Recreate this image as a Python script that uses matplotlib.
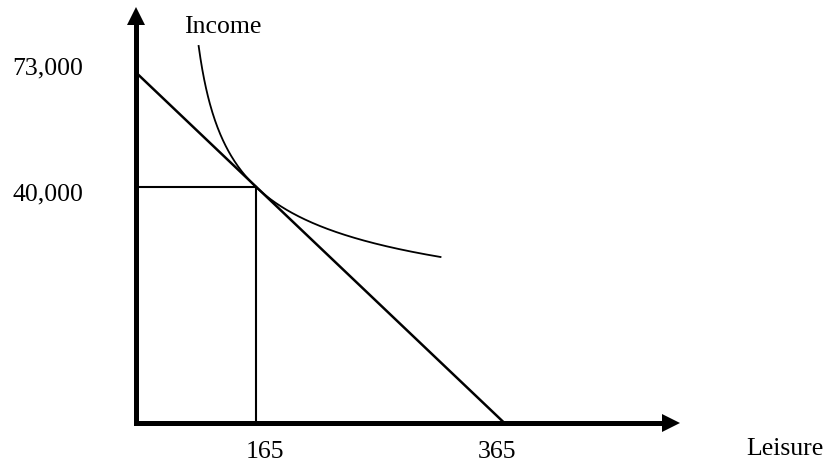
import numpy as np
import matplotlib
matplotlib.use("Agg")
import matplotlib.pyplot as plt

# values
leisure_ticks = [165, 365]
leisure_tick_labels = ["165", "365"]
income_ticks = [73000, 40000]
income_tick_labels = ["73,000", "40,000"]

budget_leisure = [0, 365]
budget_income = [73000, 0]

optimum_leisure = 165
optimum_income = 40000

# indifference curve: y = y0 + (Y* - y0) * ((X* - x0) / (x - x0)) ** p
ic_leisure_range = (104, 319)
ic_x0 = 82.8
ic_y0 = 2262
ic_p = 0.55

plt.rcParams["font.family"] = ["Liberation Serif", "DejaVu Serif"]
FS = 18.5


def power_scale(q):
    fwd = lambda v: np.sign(v) * np.abs(v) ** q
    inv = lambda v: np.sign(v) * np.abs(v) ** (1.0 / q)
    return fwd, inv


W, H = 829, 462
fig = plt.figure(figsize=(W / 100, H / 100), dpi=100)
ax = fig.add_axes([136.5 / W, 39 / H, 534.5 / W, 407 / H])
ax.set_xscale("function", functions=power_scale(1.4166))
ax.set_yscale("function", functions=power_scale(0.6551))
ax.set_xlim(0, 475.1)
ax.set_ylim(0, 91910)
for s in ax.spines.values():
    s.set_visible(False)
ax.set_xticks([])
ax.set_yticks([])

# axes with arrow heads
ax.plot([0, 1], [0, 0], transform=ax.transAxes, color="black", lw=3.6,
        solid_capstyle="projecting", clip_on=False)
ax.plot([0, 0], [0, 1], transform=ax.transAxes, color="black", lw=3.6,
        solid_capstyle="projecting", clip_on=False)
ax.plot(1, 0, marker=">", ms=13, mew=0, color="black", transform=ax.transAxes, clip_on=False)
ax.plot(0, 1, marker="^", ms=13, mew=0, color="black", transform=ax.transAxes, clip_on=False)

# budget line
ax.plot(budget_leisure, budget_income, color="black", lw=1.8, clip_on=False)

# guides to the optimum
ax.plot([optimum_leisure, optimum_leisure], [0, optimum_income], color="black", lw=1.5, clip_on=False)
ax.plot([0, optimum_leisure], [optimum_income, optimum_income], color="black", lw=1.5, clip_on=False)

# indifference curve
xs = np.linspace(ic_leisure_range[0], ic_leisure_range[1], 300)
ys = ic_y0 + (optimum_income - ic_y0) * ((optimum_leisure - ic_x0) / (xs - ic_x0)) ** ic_p
ax.plot(xs, ys, color="black", lw=1.3, clip_on=False)

# tick labels
x_offsets = [6.5, -5]
for v, lab, dx in zip(leisure_ticks, leisure_tick_labels, x_offsets):
    ax.annotate(lab, xy=(v, 0), xytext=(dx, -25), textcoords="offset points",
                ha="center", va="baseline", fontsize=FS)
y_offsets = [-1, -10]
for v, lab, dy in zip(income_ticks, income_tick_labels, y_offsets):
    ax.annotate(lab, xy=(0, v), xytext=(-38.5, dy), textcoords="offset points",
                ha="right", va="baseline", fontsize=FS)

fig.text(223 / W, 1 - 33 / H, "Income", ha="center", va="baseline", fontsize=FS)
fig.text(785 / W, 1 - 455 / H, "Leisure", ha="center", va="baseline", fontsize=FS)

fig.savefig("out.png", dpi=100)
